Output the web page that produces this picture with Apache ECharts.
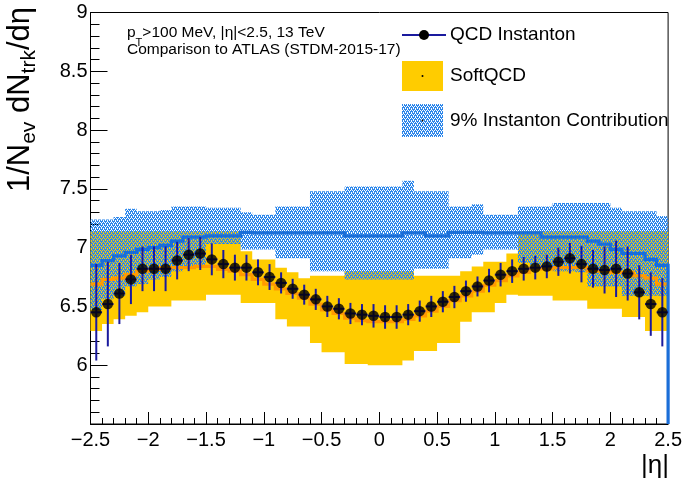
<!DOCTYPE html>
<html><head><meta charset="utf-8">
<script src="https://cdn.jsdelivr.net/npm/echarts@6/dist/echarts.min.js"></script>
<style>html,body{margin:0;padding:0;background:#fff}#c{width:685px;height:485px}</style>
</head><body><div id="c"></div>
<script>
// ---- data (bin centers in eta, 0.1 wide bins) ----
const etaCenters = [-2.45,-2.35,-2.25,-2.15,-2.05,-1.95,-1.85,-1.75,-1.65,-1.55,-1.45,-1.35,-1.25,-1.15,-1.05,-0.95,-0.85,-0.75,-0.65,-0.55,-0.45,-0.35,-0.25,-0.15,-0.05,0.05,0.15,0.25,0.35,0.45,0.55,0.65,0.75,0.85,0.95,1.05,1.15,1.25,1.35,1.45,1.55,1.65,1.75,1.85,1.95,2.05,2.15,2.25,2.35,2.45];
const binHalfWidth = 0.05;
const qcdInstanton = [6.45,6.52,6.61,6.73,6.82,6.82,6.82,6.89,6.94,6.95,6.90,6.86,6.83,6.83,6.79,6.75,6.70,6.65,6.60,6.56,6.50,6.48,6.44,6.43,6.42,6.41,6.41,6.43,6.46,6.50,6.54,6.58,6.63,6.67,6.72,6.77,6.80,6.82,6.83,6.84,6.88,6.91,6.86,6.82,6.81,6.82,6.78,6.62,6.52,6.45];
const qcdInstantonErr = [0.41,0.36,0.26,0.21,0.19,0.19,0.19,0.16,0.14,0.14,0.135,0.12,0.11,0.11,0.11,0.11,0.09,0.085,0.085,0.09,0.09,0.09,0.09,0.09,0.10,0.10,0.10,0.09,0.09,0.09,0.09,0.095,0.09,0.085,0.10,0.10,0.10,0.10,0.10,0.10,0.12,0.13,0.155,0.16,0.20,0.24,0.23,0.23,0.27,0.29];
const softQCD = [6.69,6.73,6.74,6.77,6.80,6.815,6.83,6.83,6.83,6.84,6.84,6.815,6.80,6.77,6.73,6.69,6.65,6.61,6.57,6.52,6.47,6.44,6.40,6.38,6.37,6.37,6.37,6.39,6.42,6.46,6.50,6.55,6.59,6.63,6.68,6.72,6.76,6.79,6.82,6.82,6.83,6.83,6.83,6.80,6.80,6.79,6.79,6.76,6.74,6.69];
const softQCDLow = [6.29,6.35,6.39,6.42,6.45,6.50,6.50,6.55,6.55,6.55,6.60,6.60,6.60,6.53,6.53,6.53,6.39,6.33,6.33,6.19,6.11,6.11,6.01,6.01,6.00,6.00,6.00,6.04,6.12,6.12,6.19,6.19,6.37,6.45,6.45,6.53,6.60,6.59,6.59,6.59,6.55,6.55,6.55,6.48,6.48,6.48,6.41,6.41,6.29,6.29];
const softQCDHigh = [7.14,7.14,7.14,7.14,7.14,7.14,7.14,7.14,7.14,7.14,7.14,7.14,7.14,6.97,6.90,6.90,6.83,6.79,6.74,6.76,6.76,6.76,6.80,6.80,6.80,6.80,6.80,6.80,6.76,6.76,6.76,6.76,6.80,6.84,6.88,6.88,6.95,7.14,7.14,7.14,7.14,7.14,7.14,7.14,7.14,7.14,7.14,7.14,7.14,7.14];
const instContrib = [6.85,6.89,6.93,6.96,6.985,7.00,7.02,7.055,7.09,7.09,7.10,7.10,7.10,7.13,7.125,7.125,7.125,7.125,7.125,7.125,7.125,7.125,7.10,7.10,7.10,7.10,7.10,7.125,7.125,7.10,7.10,7.13,7.13,7.13,7.125,7.125,7.125,7.125,7.125,7.09,7.09,7.09,7.09,7.055,7.03,6.985,6.95,6.95,6.90,6.85];
const instContribLow = [6.47,6.56,6.59,6.67,6.69,6.73,6.75,6.80,6.82,6.85,7.03,7.03,7.03,6.985,6.985,6.985,6.91,6.91,6.91,6.80,6.80,6.80,6.73,6.73,6.73,6.73,6.73,6.73,6.82,6.82,6.82,6.91,6.91,6.94,6.985,6.985,6.985,6.87,6.85,6.83,6.80,6.80,6.79,6.67,6.67,6.67,6.59,6.59,6.59,6.59];
const instContribHigh = [7.24,7.24,7.26,7.33,7.31,7.31,7.32,7.35,7.35,7.35,7.34,7.34,7.34,7.30,7.28,7.28,7.35,7.35,7.35,7.48,7.48,7.48,7.52,7.52,7.52,7.52,7.52,7.57,7.48,7.48,7.48,7.35,7.35,7.37,7.28,7.28,7.28,7.35,7.35,7.35,7.38,7.38,7.38,7.38,7.38,7.34,7.31,7.31,7.31,7.27];
const xTicks = {min: -2.5, max: 2.5, step: 0.5};
const yTicks = {min: 5.5, max: 9, step: 0.5};

// ---- styling ----
const FONT = '"Liberation Sans", Arial, Helvetica, sans-serif';
const NAVY = '#1a1a9e';
const YELLOW = '#ffcc00';
const ORANGE = '#ff9a00';
const BLUE = '#1a6ed8';

function makeHatch() {
  const c = document.createElement('canvas');
  c.width = 4; c.height = 4;
  const g = c.getContext('2d');
  const mask = ['1010', '1110', '0101', '1011'];
  g.fillStyle = 'rgb(45,135,235)';
  for (let y = 0; y < 4; y++) for (let x = 0; x < 4; x++) if (mask[y][x] === '1') g.fillRect(x, y, 1, 1);
  return c;
}
const hatch = {image: makeHatch(), repeat: 'repeat'};

function fmt(v) {
  const r = Math.round(v * 10) / 10;
  return (r < 0 ? '\u2212' : '') + String(Math.abs(r));
}

function bandRender(lows, highs, fill) {
  return function (params, api) {
    if (params.dataIndex !== 0) return null;
    const top = [], bot = [];
    for (let i = 0; i < etaCenters.length; i++) {
      const x0 = etaCenters[i] - binHalfWidth, x1 = etaCenters[i] + binHalfWidth;
      top.push(api.coord([x0, highs[i]]), api.coord([x1, highs[i]]));
      bot.push(api.coord([x0, lows[i]]), api.coord([x1, lows[i]]));
    }
    return {type: 'polygon', shape: {points: top.concat(bot.reverse())}, style: {fill: fill, stroke: null}};
  };
}
function stepRender(vals, color, dropToMin) {
  return function (params, api) {
    if (params.dataIndex !== 0) return null;
    const pts = [];
    for (let i = 0; i < etaCenters.length; i++) {
      pts.push(api.coord([etaCenters[i] - binHalfWidth, vals[i]]), api.coord([etaCenters[i] + binHalfWidth, vals[i]]));
    }
    if (dropToMin) pts.push(api.coord([etaCenters[etaCenters.length - 1] + binHalfWidth, yTicks.min]));
    return {type: 'polyline', shape: {points: pts}, style: {stroke: color, lineWidth: 3.2, fill: null, lineJoin: 'miter'}};
  };
}

const chart = echarts.init(document.getElementById('c'), null, {renderer: 'canvas'});
const axisCommon = {
  type: 'value',
  axisLine: {show: true, onZero: false, lineStyle: {color: '#000', width: 1}},
  splitLine: {show: false},
  axisLabel: {color: '#000', fontFamily: FONT, fontSize: 20},
};
const legendText = (t, y) => ({type: 'text', x: 450, y: y, z: 100,
  style: {text: t, font: '19px ' + FONT, fill: '#000', align: 'left', verticalAlign: 'middle', textAlign: 'left', textVerticalAlign: 'middle'}});
chart.setOption({
  animation: false,
  backgroundColor: '#fff',
  grid: {left: 90.5, right: 14.5, top: 12.5, bottom: 61, show: true, borderColor: '#000', borderWidth: 1, backgroundColor: 'transparent'},
  xAxis: Object.assign({}, axisCommon, {
    min: xTicks.min, max: xTicks.max, interval: xTicks.step,
    axisTick: {show: true, inside: true, length: 12, lineStyle: {color: '#000'}},
    minorTick: {show: true, splitNumber: 5, length: 6, lineStyle: {color: '#000'}},
    axisLabel: Object.assign({}, axisCommon.axisLabel, {margin: 6, formatter: fmt})
  }),
  yAxis: Object.assign({}, axisCommon, {
    min: yTicks.min, max: yTicks.max, interval: yTicks.step,
    axisTick: {show: true, inside: true, length: 17, lineStyle: {color: '#000'}},
    minorTick: {show: true, splitNumber: 5, length: 9, lineStyle: {color: '#000'}},
    axisLabel: Object.assign({}, axisCommon.axisLabel, {margin: 3, formatter: v => (Math.abs(v - yTicks.min) < 1e-9 ? '' : fmt(v))})
  }),
  series: [
    {name: 'SoftQCD', type: 'custom', z: 1, silent: true,
     data: etaCenters.map((c, i) => [c, softQCDHigh[i]]),
     renderItem: bandRender(softQCDLow, softQCDHigh, YELLOW)},
    {name: '9% Instanton Contribution', type: 'custom', z: 2, silent: true,
     data: etaCenters.map((c, i) => [c, instContribHigh[i]]),
     renderItem: bandRender(instContribLow, instContribHigh, hatch)},
    {name: 'SoftQCD mean', type: 'custom', z: 3, silent: true,
     data: etaCenters.map((c, i) => [c, softQCD[i]]),
     renderItem: stepRender(softQCD, ORANGE, false)},
    {name: '9% Instanton mean', type: 'custom', z: 4, silent: true,
     data: etaCenters.map((c, i) => [c, instContrib[i]]),
     renderItem: stepRender(instContrib, BLUE, true)},
    {name: 'QCD Instanton errors', type: 'custom', z: 5, silent: true,
     data: etaCenters.map((c, i) => [c, qcdInstanton[i], qcdInstantonErr[i]]),
     renderItem: function (params, api) {
       const x = api.value(0), y = api.value(1), e = api.value(2);
       const a = api.coord([x, y - e]), b = api.coord([x, y + e]);
       const l = api.coord([x - binHalfWidth, y]), r = api.coord([x + binHalfWidth, y]);
       return {type: 'group', children: [
         {type: 'line', shape: {x1: a[0], y1: a[1], x2: b[0], y2: b[1]}, style: {stroke: NAVY, lineWidth: 2}},
         {type: 'line', shape: {x1: l[0], y1: l[1], x2: r[0], y2: r[1]}, style: {stroke: NAVY, lineWidth: 2}}
       ]};
     }},
    {name: 'QCD Instanton', type: 'scatter', z: 6, symbol: 'circle', symbolSize: 10.5,
     itemStyle: {color: '#000'},
     data: etaCenters.map((c, i) => [c, qcdInstanton[i]])}
  ],
  graphic: [
    {type: 'text', x: 5, y: 7, rotation: Math.PI / 2, z: 100,
     style: {text: '{b|1/N}{s|ev}{b| dN}{s|trk}{b|/d\u03b7}', align: 'right', verticalAlign: 'top', textAlign: 'right', textVerticalAlign: 'top',
       rich: {b: {fontSize: 31, fontFamily: FONT, height: 31, verticalAlign: 'top', fill: '#000'},
              s: {fontSize: 21, fontFamily: FONT, height: 48, verticalAlign: 'top', fill: '#000'}}}},
    {type: 'text', x: 669, y: 466, z: 100,
     style: {text: '|\u03b7|', font: '26px ' + FONT, fill: '#000', align: 'right', verticalAlign: 'middle', textAlign: 'right', textVerticalAlign: 'middle'}},
    {type: 'text', x: 127, y: 25, z: 100,
     style: {text: '{b|p}{s|T}{b|>100 MeV, |\u03b7|<2.5, 13 TeV}', align: 'left', verticalAlign: 'top', textAlign: 'left', textVerticalAlign: 'top',
       rich: {b: {fontSize: 15.5, fontFamily: FONT, height: 16, verticalAlign: 'top', fill: '#000'},
              s: {fontSize: 11, fontFamily: FONT, height: 36, verticalAlign: 'top', fill: '#000'}}}},
    {type: 'text', x: 127, y: 50, z: 100,
     style: {text: 'Comparison to ATLAS (STDM-2015-17)', font: '15.5px ' + FONT, fill: '#000', align: 'left', verticalAlign: 'middle', textAlign: 'left', textVerticalAlign: 'middle'}},
    // legend
    {type: 'line', z: 100, shape: {x1: 402, y1: 35, x2: 446, y2: 35}, style: {stroke: NAVY, lineWidth: 2}},
    {type: 'circle', z: 101, shape: {cx: 424, cy: 35, r: 5}, style: {fill: '#000'}},
    {type: 'rect', z: 100, shape: {x: 402, y: 61, width: 41, height: 30}, style: {fill: YELLOW}},
    {type: 'circle', z: 101, shape: {cx: 422.5, cy: 76, r: 1}, style: {fill: '#000'}},
    {type: 'rect', z: 100, shape: {x: 402, y: 104, width: 41, height: 33}, style: {fill: hatch}},
    {type: 'circle', z: 101, shape: {cx: 422.5, cy: 120.5, r: 1}, style: {fill: '#000'}},
    legendText('QCD Instanton', 35),
    legendText('SoftQCD', 76),
    legendText('9% Instanton Contribution', 120.5)
  ]
});
</script>
</body></html>
